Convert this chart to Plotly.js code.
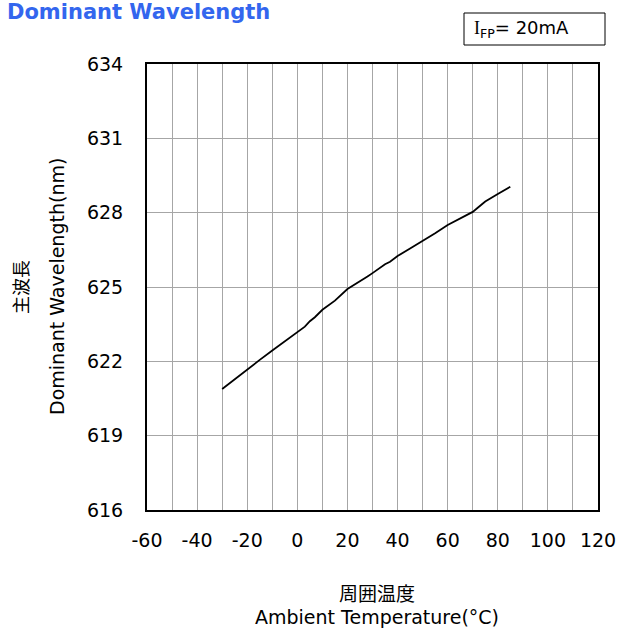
<!DOCTYPE html>
<html>
<head>
<meta charset="utf-8">
<script src="https://cdn.plot.ly/plotly-3.0.1.min.js"></script>
<style>html,body{margin:0;padding:0;background:#fff;}#chart{width:629px;height:630px;}</style>
</head>
<body>
<div id="chart"></div>
<script>
// Data
const temperature = [-30,-25,-20,-15,-10,-5,0,3,5,7,10,13,15,20,25,28,30,33,35,37,40,45,50,55,60,65,70,72,75,80,85];
const wavelength  = [620.88,621.28,621.68,622.06,622.44,622.82,623.2,623.4,623.62,623.78,624.08,624.3,624.45,624.92,625.22,625.42,625.56,625.78,625.92,626.02,626.25,626.55,626.85,627.17,627.5,627.77,628.03,628.2,628.45,628.75,629.05];
const xTickVals = [-60,-40,-20,0,20,40,60,80,100,120];
const xTickText = ['-60','-40','-20','0','20','40','60','80','100','120'];
const yTickVals = [616,619,622,625,628,631,634];
const yTickText = ['616','619','622','625','628','631','634'];

const trace = {
  x: temperature, y: wavelength, type: 'scatter', mode: 'lines',
  line: {color: '#000000', width: 1.8}, hoverinfo: 'skip'
};

const tickFont = {family: 'DejaVu Sans, Verdana, sans-serif', size: 19, color: '#000'};

const layout = {
  width: 629, height: 630,
  margin: {l: 147, r: 31, t: 64, b: 120},
  paper_bgcolor: '#fff', plot_bgcolor: '#fff',
  showlegend: false,
  xaxis: {
    range: [-60, 120], tickvals: xTickVals, ticktext: xTickText, ticks: '', showgrid: true,
    gridcolor: '#a6a6a6', gridwidth: 1,
    minor: {dtick: 10, tick0: 0, showgrid: true, gridcolor: '#a6a6a6', gridwidth: 1},
    showline: true, mirror: true, linecolor: '#000', linewidth: 2,
    zeroline: false, tickfont: tickFont, ticklabelstandoff: 12, fixedrange: true
  },
  yaxis: {
    range: [616, 634], tickvals: yTickVals, ticktext: yTickText, ticks: '', showgrid: true,
    gridcolor: '#a6a6a6', gridwidth: 1,
    showline: true, mirror: true, linecolor: '#000', linewidth: 2,
    zeroline: false, tickfont: tickFont, ticklabelstandoff: 18, fixedrange: true
  },
  shapes: [
    {type: 'rect', xref: 'paper', yref: 'paper', layer: 'above',
     x0: (464-147)/451, x1: (605-147)/451, y0: (510-45)/446, y1: (510-13)/446,
     line: {color: '#000', width: 1}, fillcolor: 'rgba(0,0,0,0)'}
  ],
  annotations: [
    {text: '<b>Dominant Wavelength</b>', xref: 'paper', yref: 'paper', showarrow: false,
     x: -147/451, y: (510+2)/446, xanchor: 'left', yanchor: 'top', xshift: 5,
     font: {family: 'DejaVu Sans, Verdana, sans-serif', size: 21, color: '#3366ee'}},
    {text: '<span style="font-family:Liberation Serif">I</span><sub>FP</sub>= 20mA', xref: 'paper', yref: 'paper', showarrow: false,
     x: (472-147)/451, y: (510-29)/446, xanchor: 'left', yanchor: 'middle',
     font: {family: 'DejaVu Sans, Verdana, sans-serif', size: 18, color: '#000'}},
    {text: '主波長', xref: 'paper', yref: 'paper', showarrow: false, textangle: -90,
     x: (20-147)/451, y: 0.5, xanchor: 'center', yanchor: 'middle',
     font: {family: 'Noto Sans CJK JP, sans-serif', size: 18, color: '#000'}},
    {text: 'Dominant Wavelength(nm)', xref: 'paper', yref: 'paper', showarrow: false, textangle: -90,
     x: (57-147)/451, y: 0.5, xanchor: 'center', yanchor: 'middle',
     font: {family: 'DejaVu Sans, Verdana, sans-serif', size: 19, color: '#000'}},
    {text: '周囲温度', xref: 'paper', yref: 'paper', showarrow: false,
     x: (377-147)/451, y: (510-592)/446, xanchor: 'center', yanchor: 'middle',
     font: {family: 'Noto Sans CJK JP, sans-serif', size: 19, color: '#000'}},
    {text: 'Ambient Temperature(°C)', xref: 'paper', yref: 'paper', showarrow: false,
     x: (377-147)/451, y: (510-617)/446, xanchor: 'center', yanchor: 'middle',
     font: {family: 'DejaVu Sans, Verdana, sans-serif', size: 19, color: '#000'}}
  ]
};

Plotly.newPlot('chart', [trace], layout, {staticPlot: true, displayModeBar: false});
</script>
</body>
</html>
